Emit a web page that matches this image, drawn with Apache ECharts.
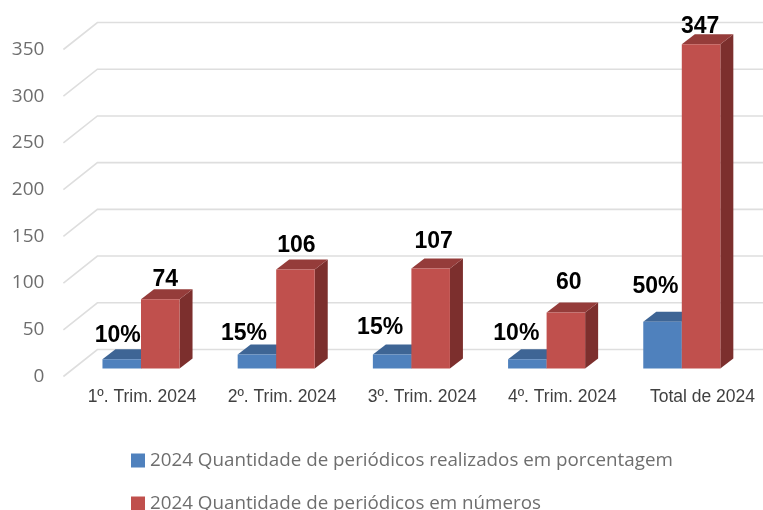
<!DOCTYPE html>
<html>
<head>
<meta charset="utf-8">
<style>
  html, body { margin: 0; padding: 0; background: #fff; }
  #chart { width: 763px; height: 510px; }
</style>
<script src="https://cdn.jsdelivr.net/npm/echarts@6/dist/echarts.min.js"></script>
</head>
<body>
<div id="chart"></div>
<script>
const categories = ['1º. Trim. 2024', '2º. Trim. 2024', '3º. Trim. 2024', '4º. Trim. 2024', 'Total de 2024']
const percentValues = [10, 15, 15, 10, 50]
const numberValues = [74, 106, 107, 60, 347]
const yTicks = [0, 50, 100, 150, 200, 250, 300, 350]
const percentName = '2024 Quantidade de periódicos realizados em porcentagem'
const numberName = '2024 Quantidade de periódicos em números'

// the value labels sit by hand in the picture, so each has its own nudge
const percentNudge = [[-4, -24], [-13, -21], [-12, -27], [-11, -26], [-7, -35]]
const numberNudge = [[5, -20], [1, -24], [3, -27], [3, -30], [-1, -18]]

const chart = echarts.init(document.getElementById('chart'))

// fake 3d: floor depth of the chart, and depth of the bars standing in the middle of it
const floorDepth = [34, -27]
const barShift = [10, -8]
const barDepth = [13, -10]

function renderGridLine(params, api) {
  const p = api.coord([0, api.value(1)])
  const x0 = p[0] - api.size([1, 0])[0] / 2
  const bx = x0 + floorDepth[0]
  const by = p[1] + floorDepth[1]
  return {
    type: 'polyline',
    shape: { points: [[x0, p[1]], [bx, by], [bx + api.size([1, 0])[0] * 5, by]] },
    style: { stroke: '#dedede', lineWidth: 1.6, fill: null },
    silent: true
  }
}

function barRenderer(side, colors, nudge, suffix) {
  return function (params, api) {
    const i = api.value(0)
    const val = api.value(1)
    const top = api.coord([i, val])
    const base = api.coord([i, 0])
    const w = api.size([1, 0])[0] * 0.285
    const x0 = top[0] + barShift[0] + (side < 0 ? -w : 0)
    const x1 = x0 + w
    const yT = top[1] + barShift[1]
    const yB = base[1] + barShift[1]
    const dx = barDepth[0]
    const dy = barDepth[1]
    return {
      type: 'group',
      children: [
        { type: 'polygon', shape: { points: [[x1, yT], [x1 + dx, yT + dy], [x1 + dx, yB + dy], [x1, yB]] }, style: { fill: colors[2] } },
        { type: 'polygon', shape: { points: [[x0, yT], [x0 + dx, yT + dy], [x1 + dx, yT + dy], [x1, yT]] }, style: { fill: colors[1] } },
        { type: 'rect', shape: { x: x0, y: yT, width: w, height: yB - yT }, style: { fill: colors[0] } },
        {
          type: 'text',
          z2: 10,
          style: {
            text: val + suffix,
            x: (x0 + x1) / 2 + nudge[i][0],
            y: yT + nudge[i][1],
            align: 'center',
            verticalAlign: 'middle',
            fill: '#000',
            font: 'bold 23px "Liberation Sans", Arial, sans-serif'
          }
        }
      ]
    }
  }
}

chart.setOption({
  animation: false,
  backgroundColor: '#fff',
  grid: [
    { left: 63.4, width: 676, top: 49.5, height: 327, outerBoundsMode: 'none' },
    // category labels are spread wider than the bars in the picture
    { left: 72, width: 700.5, top: 380, height: 6, outerBoundsMode: 'none' }
  ],
  xAxis: [
    {
      type: 'category',
      data: categories,
      axisLine: { show: false },
      axisTick: { show: false },
      axisLabel: { show: false }
    },
    {
      type: 'category',
      gridIndex: 1,
      data: categories,
      axisLine: { show: false },
      axisTick: { show: false },
      axisLabel: {
        interval: 0,
        margin: 2,
        color: '#404040',
        fontSize: 17.5,
        fontFamily: '"Liberation Sans", Arial, sans-serif'
      }
    }
  ],
  yAxis: [
    {
      type: 'value',
      min: 0,
      max: 350,
      interval: 50,
      axisLine: { show: false },
      axisTick: { show: false },
      splitLine: { show: false },
      axisLabel: {
        margin: 19,
        color: '#6e6e6e',
        fontSize: 19,
        fontFamily: '"Open Sans", sans-serif'
      }
    },
    { type: 'value', gridIndex: 1, show: false }
  ],
  legend: {
    orient: 'vertical',
    left: 126,
    top: 446,
    height: 90,
    itemWidth: 14,
    itemHeight: 14,
    itemGap: 24,
    icon: 'rect',
    data: [percentName, numberName],
    textStyle: {
      color: '#6e6e6e',
      fontSize: 18.8,
      fontFamily: '"Open Sans", sans-serif'
    }
  },
  series: [
    {
      type: 'custom',
      name: 'grid',
      silent: true,
      clip: false,
      z: 1,
      renderItem: renderGridLine,
      data: yTicks.map(t => [0, t])
    },
    {
      type: 'custom',
      name: percentName,
      clip: false,
      z: 2,
      itemStyle: { color: '#4F81BD' },
      renderItem: barRenderer(-1, ['#4F81BD', '#3E6595', '#355680'], percentNudge, '%'),
      data: percentValues.map((v, i) => [i, v])
    },
    {
      type: 'custom',
      name: numberName,
      clip: false,
      z: 3,
      itemStyle: { color: '#C0504D' },
      renderItem: barRenderer(1, ['#C0504D', '#953C3A', '#7C2F2D'], numberNudge, ''),
      data: numberValues.map((v, i) => [i, v])
    }
  ]
})
</script>
</body>
</html>
